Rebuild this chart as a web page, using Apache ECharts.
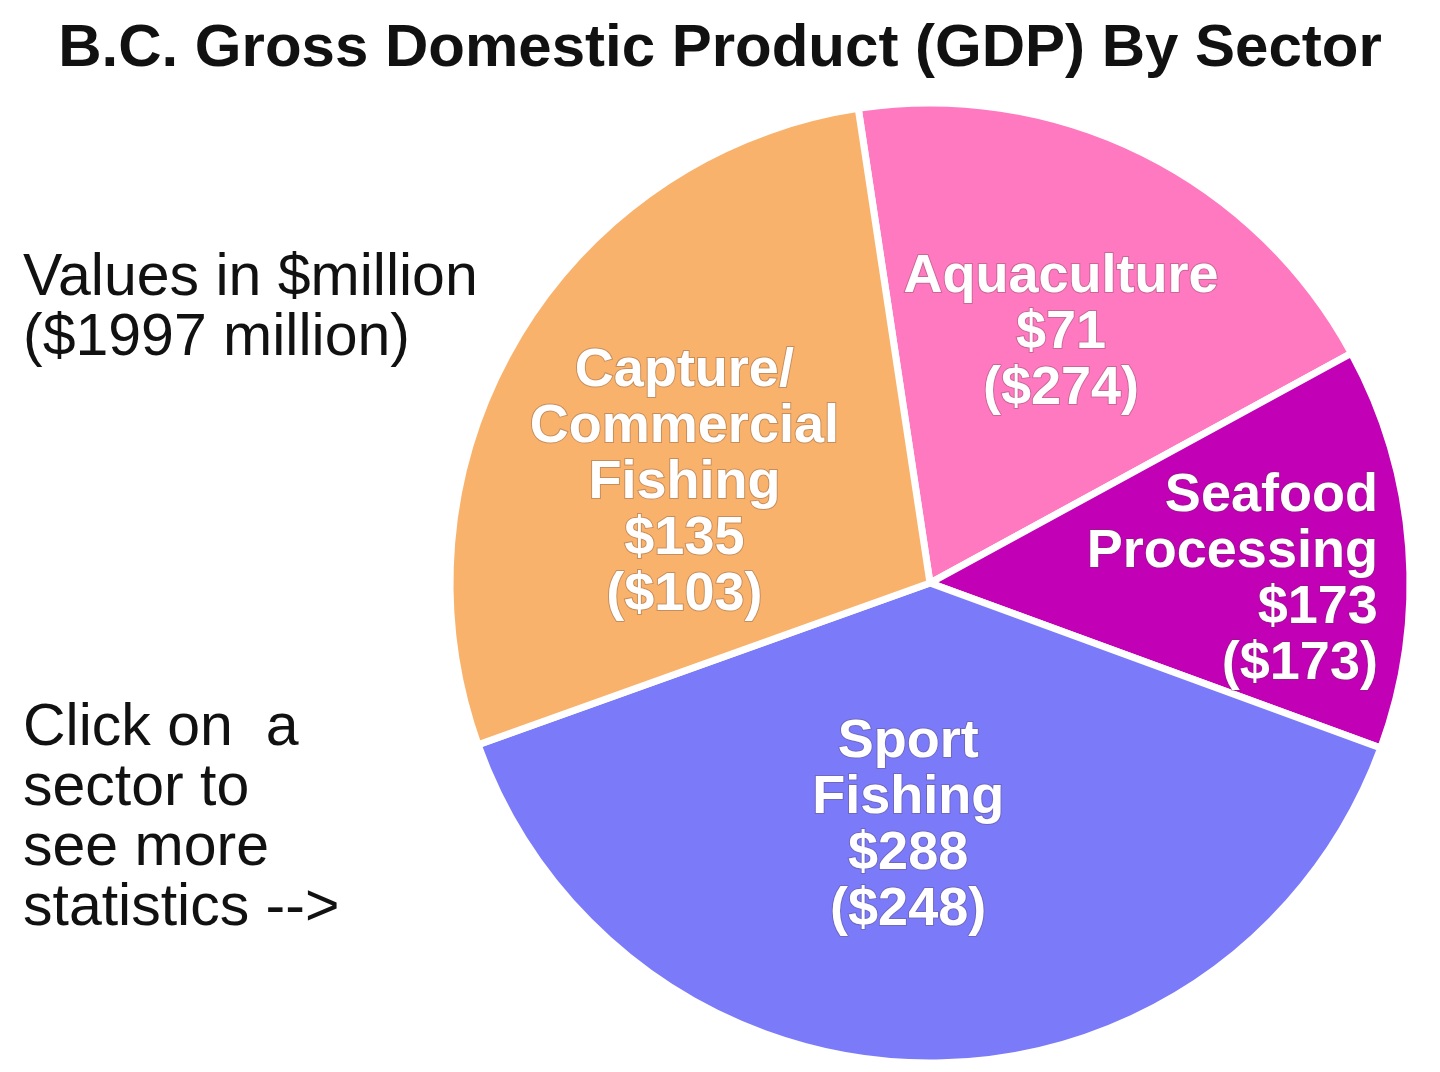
<!DOCTYPE html>
<html>
<head>
<meta charset="utf-8">
<title>B.C. GDP By Sector</title>
<script src="https://cdn.jsdelivr.net/npm/echarts@6/dist/echarts.min.js"></script>
<style>
  html, body { margin: 0; padding: 0; background: #fff; }
  #gdp_pie { width: 1440px; height: 1072px; }
</style>
</head>
<body>
<div id="gdp_pie"></div>
<script>
// sectors, clockwise from the top of the pie
var sectors = ['Aquaculture', 'Seafood\nProcessing', 'Sport\nFishing', 'Capture/\nCommercial\nFishing'];
var gdpValues = [71, 173, 288, 135];      // $million
var gdp1997 = [274, 173, 248, 103];       // $1997 million
// slice sizes as drawn in the picture (degrees, not proportional to the labels)
var sliceDegrees = [70, 48.7, 140.2, 101.1];
var sliceColors = ['#ff79c1', '#c200b6', '#7b7bfa', '#f9b26c'];

var titleText = 'B.C. Gross Domestic Product (GDP) By Sector';
var noteLines = ['Values in $million', '($1997 million)'];
var clickLines = ['Click on  a', 'sector to', 'see more', 'statistics -->'];

// label padding [top, right, bottom, left] to move each label off the default spot
var labelPad = [[0, 0, 64, 46], [30, 0, 0, 120], [0, 42, 0, 0], [50, 74, 0, 0]];
var labelAlign = ['center', 'right', 'center', 'center'];

var fontFam = '"Liberation Sans", Arial, Helvetica, sans-serif';

var pieData = [];
for (var i = 0; i < sectors.length; i++) {
  pieData.push({
    name: sectors[i],
    value: sliceDegrees[i],
    itemStyle: { color: sliceColors[i] },
    label: { padding: labelPad[i] }
  });
}

function richStyle(align) {
  return {
    align: align, fontFamily: fontFam, fontSize: 54, fontWeight: 'bold', lineHeight: 56,
    color: '#ffffff', textBorderColor: 'rgba(80,60,60,0.3)', textBorderWidth: 2
  };
}

var chart = echarts.init(document.getElementById('gdp_pie'));
var option = {
  backgroundColor: '#ffffff',
  animation: false,
  title: [{
    text: titleText,
    left: 'center',
    top: 14,
    textStyle: { fontFamily: fontFam, fontSize: 60, fontWeight: 'bold', color: '#111' }
  }, {
    text: noteLines.join('\n'),
    left: 18,
    top: 244,
    textStyle: { fontFamily: fontFam, fontSize: 59, fontWeight: 'normal', lineHeight: 60, color: '#111' }
  }, {
    text: clickLines.join('\n'),
    left: 18,
    top: 694,
    textStyle: { fontFamily: fontFam, fontSize: 59, fontWeight: 'normal', lineHeight: 60, color: '#111' }
  }],
  series: [{
    type: 'pie',
    center: [930, 583],
    radius: [0, 480],
    startAngle: 98.6,
    clockwise: true,
    avoidLabelOverlap: false,
    emphasis: { scale: false },
    itemStyle: { borderColor: '#ffffff', borderWidth: 7 },
    labelLayout: { hideOverlap: false },
    label: {
      show: true,
      position: 'inside',
      fontFamily: fontFam,
      fontSize: 54,
      fontWeight: 'bold',
      lineHeight: 56,
      color: '#ffffff',
      formatter: function (p) {
        var i = p.dataIndex;
        var lines = (p.name + '\n$' + gdpValues[i] + '\n($' + gdp1997[i] + ')').split('\n');
        return lines.map(function (t) { return '{' + labelAlign[i] + '|' + t + '}'; }).join('\n');
      },
      rich: { center: richStyle('center'), right: richStyle('right') }
    },
    labelLine: { show: false },
    data: pieData
  }]
};
chart.setOption(option);
window.addEventListener('resize', chart.resize);
</script>
</body>
</html>
